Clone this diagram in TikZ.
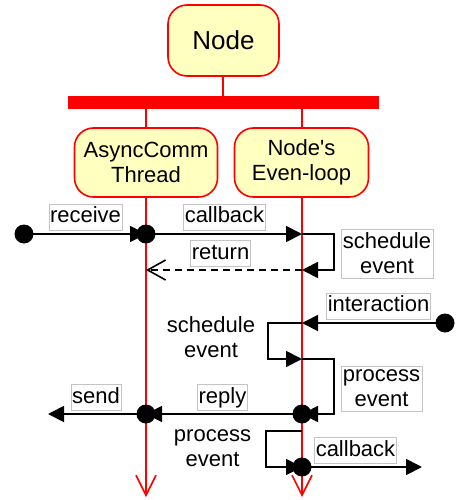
\documentclass[tikz,border=0pt]{standalone}
\usepackage{fontspec}
\setmainfont{Liberation Sans}
\usetikzlibrary{arrows.meta}
\definecolor{boxfill}{HTML}{FFFFC0}
\definecolor{lblgray}{HTML}{C4C4C4}
\begin{document}
\begin{tikzpicture}[x=1pt,y=-1pt,
  actor/.style={draw=red, fill=boxfill, line width=1.6pt, rounded corners=19pt,
    align=center, inner sep=0pt, font=\fontsize{22}{25}\selectfont},
  bus/.style={fill=red, draw=none, inner sep=0pt, minimum width=311pt, minimum height=13pt},
  tie/.style={draw=red, line width=2pt},
  life/.style={draw=red, line width=1.6pt, -{Straight Barb[length=20pt,width=20pt,line width=1.6pt]}},
  msg/.style={draw=black, line width=1.8pt, -{Triangle[length=16pt,width=16pt]}},
  ret/.style={draw=black, line width=1.8pt, dash pattern=on 7pt off 5pt,
    -{Straight Barb[length=18pt,width=20pt,line width=1.6pt,sharp]}},
  lbl/.style={draw=lblgray, fill=white, line width=0.6pt, inner xsep=1.2pt, inner ysep=2.5pt,
    text height=16pt, text depth=5pt, font=\fontsize{22}{25}\selectfont},
  lbltwo/.style={draw=lblgray, fill=white, line width=0.6pt, inner xsep=2pt, inner ysep=4pt,
    align=center, font=\fontsize{22}{25}\selectfont},
  txttwo/.style={align=center, inner sep=1pt, font=\fontsize{22}{25}\selectfont},
  dot/.style={circle, fill=black, inner sep=0pt, minimum size=19pt}
]
\useasboundingbox (0,0) rectangle (455,500);

% actors
\node[actor, minimum width=111pt, minimum height=71pt, font=\fontsize{26}{30}\selectfont] (top) at (223.5,40.5) {Node};
\node[bus] (bar) at (223.5,102.5) {};
\node[actor, minimum width=143pt, minimum height=69pt] (ac) at (146,162.5) {AsyncComm\\Thread};
\node[actor, minimum width=134pt, minimum height=69pt] (nl) at (301.5,162.5) {Node\textquotesingle s\\Even-loop};

\coordinate (tA) at (223,0);
\coordinate (tB) at (146,0);
\coordinate (tC) at (302,0);
\draw[tie] (top.south -| tA) -- (bar.north -| tA);
\draw[tie] (bar.south -| tB) -- (ac.north -| tB);
\draw[tie] (bar.south -| tC) -- (nl.north -| tC);

% lifeline ends
\coordinate (acend) at (146,497);
\coordinate (nlend) at (302,497);
\draw[life] (ac.south) -- (acend);
\draw[life] (nl.south -| nlend) -- (nlend);

% event points
\coordinate (r0) at (24,234);
\coordinate (a1) at (146,234);
\coordinate (b1) at (302,234);
\coordinate (b2) at (302,270);
\coordinate (a2) at (146,270);
\coordinate (i0) at (445,323);
\coordinate (b3) at (302,323);
\coordinate (b4) at (302,359);
\coordinate (b5) at (302,414);
\coordinate (a5) at (146,414);
\coordinate (s0) at (48,414);
\coordinate (b6) at (302,431);
\coordinate (b7) at (302,467);
\coordinate (c0) at (422,467);

% messages
\draw[msg] (r0) -- (a1);
\draw[msg] (a1) -- (b1);
\draw[msg] (b1) -- (334,234) -- (334,270) -- (b2);
\draw[ret] (b2) -- (a2);
\draw[msg] (i0) -- (b3);
\draw[msg] (b3) -- (268,323) -- (268,359) -- (b4);
\draw[msg] (b4) -- (334,359) -- (334,414) -- (b5);
\draw[msg] (b5) -- (a5);
\draw[msg] (a5) -- (s0);
\draw[msg] (b6) -- (266,431) -- (266,467) -- (b7);
\draw[msg] (b7) -- (c0);

% dots
\node[dot] (d0) at (r0) {};
\node[dot] (d1) at (a1) {};
\node[dot] (d2) at (i0) {};
\node[dot] (d3) at (b5) {};
\node[dot] (d4) at (a5) {};
\node[dot] (d5) at (b7) {};

% labels
\node[lbl] (lreceive) at (85.5,217) {receive};
\node[lbl] (lcallback) at (224.5,217) {callback};
\node[lbltwo] (lsched1) at (387,253.5) {schedule\\event};
\node[lbl] (lreturn) at (220.5,253.5) {return};
\node[lbl] (linter) at (378.5,306) {interaction};
\node[txttwo] (lsched2) at (211,337) {schedule\\event};
\node[lbltwo] (lproc1) at (381.5,388.5) {process\\event};
\node[lbl] (lreply) at (222.5,397.5) {reply};
\node[lbl] (lsend) at (96,397.5) {send};
\node[txttwo] (lproc2) at (212.5,448) {process\\event};
\node[lbl] (lcallback2) at (355.5,450.5) {callback};
\end{tikzpicture}
\end{document}
